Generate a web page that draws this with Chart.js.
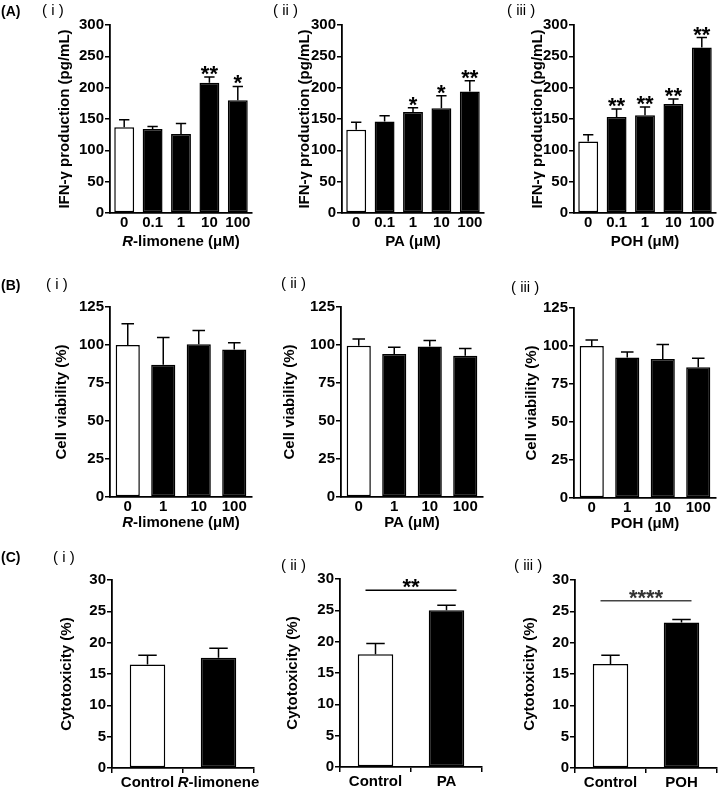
<!DOCTYPE html>
<html>
<head>
<meta charset="utf-8">
<script src="https://cdn.jsdelivr.net/npm/chart.js@4.4.1/dist/chart.umd.min.js"></script>
<style>
  body { margin: 0; background: #fff; width: 721px; height: 791px; position: relative; overflow: hidden; font-family: Arial, 'Liberation Sans', sans-serif; }
  .box { position: absolute; }
  .lbl { position: absolute; font-size: 15px; color: #000; white-space: pre; line-height: 16px; will-change: transform; }
  .lbl.b { font-weight: bold; font-size: 14px; }
</style>
</head>
<body>
<div class="lbl b" style="left:1px;top:3px">(A)</div>
<div class="lbl" style="left:42px;top:2px">( i )</div>
<div class="lbl" style="left:273px;top:2px">( ii )</div>
<div class="lbl" style="left:507px;top:2px">( iii )</div>
<div class="lbl b" style="left:1px;top:277px">(B)</div>
<div class="lbl" style="left:46px;top:276px">( i )</div>
<div class="lbl" style="left:281px;top:275px">( ii )</div>
<div class="lbl" style="left:511px;top:279px">( iii )</div>
<div class="lbl b" style="left:1px;top:549px">(C)</div>
<div class="lbl" style="left:53px;top:549px">( i )</div>
<div class="lbl" style="left:281px;top:557px">( ii )</div>
<div class="lbl" style="left:514px;top:557px">( iii )</div>

<script>
// categories
const doseLabels5 = ['0', '0.1', '1', '10', '100'];
const doseLabels4 = ['0', '1', '10', '100'];
const groupsLimonene = ['Control', 'R-limonene'];
const groupsPA = ['Control', 'PA'];
const groupsPOH = ['Control', 'POH'];

// (A) IFN-γ production, pg/mL (mean and upper error)
const ifnLimonene = [137, 134, 126, 208, 180];
const ifnLimoneneErr = [12, 4, 17, 9, 22];
const ifnLimoneneSig = ['', '', '', '**', '*'];
const ifnPA = [133, 146, 161, 167, 194];
const ifnPAErr = [12, 9, 7, 20, 17];
const ifnPASig = ['', '', '*', '*', '**'];
const ifnPOH = [114, 153, 156, 174, 264];
const ifnPOHErr = [11, 13, 13, 8, 16];
const ifnPOHSig = ['', '**', '**', '**', '**'];

// (B) cell viability, %
const viabLimonene = [100, 87, 100.5, 97];
const viabLimoneneErr = [14, 18, 9, 4.5];
const viabPA = [99.5, 94, 99, 93];
const viabPAErr = [4.5, 4.5, 4, 4.7];
const viabPOH = [100, 92.5, 91.5, 86];
const viabPOHErr = [4, 3.5, 9.5, 6];

// (C) cytotoxicity, %
const cytoLimonene = [16.5, 17.6];
const cytoLimoneneErr = [1.5, 1.5];
const cytoPA = [18, 25];
const cytoPAErr = [1.7, 0.8];
const cytoPOH = [16.6, 23.2];
const cytoPOHErr = [1.4, 0.5];
const cytoPASig = { level: 28.2, text: '**' };
const cytoPOHSig = { level: 26.7, text: '****' };

const FONT = "Arial, 'Liberation Sans', sans-serif";
Chart.defaults.font.family = FONT;
Chart.defaults.color = '#000';

const PLOT_W = 142;
const Y_W = 100;
const PAD_TOP = 40;
const PAD_RIGHT = 16;

// text with italic "R" prefix, e.g. R-limonene
function richParts(text) {
  if (text.startsWith('R-')) return [{ t: 'R', it: true }, { t: text.slice(1), it: false }];
  return [{ t: text, it: false }];
}

function drawRich(ctx, text, cx, cy, size) {
  const parts = richParts(text);
  let total = 0;
  parts.forEach(p => {
    ctx.font = (p.it ? 'italic ' : '') + 'bold ' + size + 'px ' + FONT;
    p.w = ctx.measureText(p.t).width;
    total += p.w;
  });
  let x = cx - total / 2;
  ctx.textAlign = 'left';
  ctx.textBaseline = 'middle';
  parts.forEach(p => {
    ctx.font = (p.it ? 'italic ' : '') + 'bold ' + size + 'px ' + FONT;
    ctx.fillText(p.t, x, cy);
    x += p.w;
  });
}

const errorBarPlugin = {
  id: 'errorBars',
  afterDatasetsDraw(chart) {
    const { ctx, scales: { y } } = chart;
    const meta = chart.getDatasetMeta(0);
    const ds = chart.data.datasets[0];
    ctx.save();
    ctx.strokeStyle = '#000';
    ctx.lineWidth = 1.5;
    meta.data.forEach((bar, i) => {
      const top = y.getPixelForValue(ds.data[i] + ds.err[i]);
      const half = bar.width * 0.26;
      ctx.beginPath();
      ctx.moveTo(bar.x, bar.y);
      ctx.lineTo(bar.x, top);
      ctx.moveTo(bar.x - half, top);
      ctx.lineTo(bar.x + half, top);
      ctx.stroke();
      const star = ds.stars && ds.stars[i];
      if (star) {
        ctx.fillStyle = '#000';
        ctx.font = 'bold 22px ' + FONT;
        ctx.textAlign = 'center';
        ctx.textBaseline = 'alphabetic';
        ctx.fillText(star, bar.x, top + 4);
      }
    });
    if (ds.sig) {
      const x0 = meta.data[0].x - 10;
      const x1 = meta.data[meta.data.length - 1].x + 10;
      const ly = y.getPixelForValue(ds.sig.level);
      ctx.strokeStyle = ds.sig.text.length > 2 ? '#444' : '#000';
      ctx.beginPath();
      ctx.moveTo(x0, ly);
      ctx.lineTo(x1, ly);
      ctx.stroke();
      ctx.fillStyle = ds.sig.text.length > 2 ? '#333' : '#000';
      ctx.font = 'bold 22px ' + FONT;
      ctx.textAlign = 'center';
      ctx.textBaseline = 'alphabetic';
      ctx.fillText(ds.sig.text, (x0 + x1) / 2, ly + 4);
    }
    ctx.restore();
  }
};

const richTextPlugin = {
  id: 'richText',
  afterDraw(chart) {
    const { ctx, chartArea, scales: { x } } = chart;
    const cfg = chart.config.options.plugins.richText || {};
    ctx.save();
    ctx.fillStyle = '#000';
    if (cfg.xTitle) {
      drawRich(ctx, cfg.xTitle, (chartArea.left + chartArea.right) / 2, chartArea.bottom + cfg.xTitleDy, 15);
    }
    if (cfg.richTicks) {
      chart.data.labels.forEach((lab, i) => {
        if (!lab.startsWith('R-')) return;
        drawRich(ctx, lab, x.getPixelForTick(i), chartArea.bottom + cfg.tickDy, cfg.tickSize);
      });
    }
    ctx.restore();
  }
};

function makePanel(p) {
  const w = Y_W + PLOT_W + PAD_RIGHT;
  const h = PAD_TOP + p.plotH + p.xH;
  const box = document.createElement('div');
  box.className = 'box';
  box.style.left = (p.left - Y_W) + 'px';
  box.style.top = (p.top - PAD_TOP) + 'px';
  const canvas = document.createElement('canvas');
  canvas.width = w;
  canvas.height = h;
  box.appendChild(canvas);
  document.body.appendChild(box);

  const xTickLen = p.xTicks ? 5 : 0;

  return new Chart(canvas, {
    type: 'bar',
    data: {
      labels: p.labels,
      datasets: [{
        data: p.values,
        err: p.err,
        stars: p.stars,
        sig: p.sig,
        backgroundColor: p.values.map((v, i) => i === 0 ? '#fff' : '#000'),
        borderColor: '#000',
        borderWidth: 1.5,
        borderSkipped: false,
        barPercentage: p.barPct,
        categoryPercentage: 1
      }]
    },
    options: {
      responsive: false,
      animation: false,
      events: [],
      layout: { padding: { top: PAD_TOP, right: PAD_RIGHT, left: 0, bottom: 0 } },
      plugins: {
        legend: { display: false },
        tooltip: { enabled: false },
        richText: { xTitle: p.xTitle, xTitleDy: p.xTitleDy, richTicks: p.richTicks, tickDy: xTickLen + 1 + p.xTickSize * 0.6, tickSize: p.xTickSize }
      },
      scales: {
        x: {
          offset: true,
          grid: { display: p.xTicks, drawOnChartArea: false, drawTicks: p.xTicks, tickLength: xTickLen, color: '#000', lineWidth: 1.5 },
          border: { display: true, color: '#000', width: 1.8 },
          ticks: {
            color: '#000',
            font: { size: p.xTickSize, weight: 'bold' },
            padding: 1,
            maxRotation: 0,
            autoSkip: false,
            callback: function (value) {
              const lab = this.getLabelForValue(value);
              return (p.richTicks && lab.startsWith('R-')) ? '' : lab;
            }
          },
          afterFit(scale) { scale.height = p.xH; }
        },
        y: {
          min: 0,
          max: p.yMax,
          grid: { display: true, drawOnChartArea: false, drawTicks: true, tickLength: 5, color: '#000', lineWidth: 1.5 },
          border: { display: true, color: '#000', width: 1.8 },
          ticks: { stepSize: p.step, color: '#000', font: { size: 15, weight: 'bold' }, padding: 1 },
          title: {
            display: true,
            text: p.yTitle,
            color: '#000',
            font: { size: 15, weight: 'bold' },
            padding: { top: Y_W - p.titleDx - 9, bottom: 0 }
          },
          afterFit(scale) { scale.width = Y_W; }
        }
      }
    },
    plugins: [errorBarPlugin, richTextPlugin]
  });
}

const IFN_TITLE = 'IFN-γ production (pg/mL)';
const VIAB_TITLE = 'Cell viability (%)';
const CYTO_TITLE = 'Cytotoxicity (%)';

const rowA = { plotH: 188, yMax: 300, step: 50, yTitle: IFN_TITLE, labels: doseLabels5, barPct: 0.7, xH: 48, xTicks: false, xTickSize: 15, xTitleDy: 29 };
const rowB = { plotH: 190, yMax: 125, step: 25, yTitle: VIAB_TITLE, labels: doseLabels4, barPct: 0.68, xH: 42, xTicks: false, xTickSize: 15, xTitleDy: 26 };
const rowC = { plotH: 188, yMax: 30, step: 5, yTitle: CYTO_TITLE, barPct: 0.5, xH: 24, xTicks: true, xTickSize: 15 };

makePanel(Object.assign({}, rowA, { left: 110, top: 25, titleDx: 45, values: ifnLimonene, err: ifnLimoneneErr, stars: ifnLimoneneSig, xTitle: 'R-limonene (μM)' }));
makePanel(Object.assign({}, rowA, { left: 342, top: 25, titleDx: 37, values: ifnPA, err: ifnPAErr, stars: ifnPASig, xTitle: 'PA (μM)' }));
makePanel(Object.assign({}, rowA, { left: 574, top: 25, titleDx: 36, values: ifnPOH, err: ifnPOHErr, stars: ifnPOHSig, xTitle: 'POH (μM)' }));

makePanel(Object.assign({}, rowB, { left: 110, top: 307, titleDx: 48, values: viabLimonene, err: viabLimoneneErr, xTitle: 'R-limonene (μM)' }));
makePanel(Object.assign({}, rowB, { left: 341, top: 307, titleDx: 51, values: viabPA, err: viabPAErr, xTitle: 'PA (μM)' }));
makePanel(Object.assign({}, rowB, { left: 574, top: 308, titleDx: 42, values: viabPOH, err: viabPOHErr, xTitle: 'POH (μM)' }));

makePanel(Object.assign({}, rowC, { left: 112, top: 580, titleDx: 45, labels: groupsLimonene, values: cytoLimonene, err: cytoLimoneneErr, richTicks: true }));
makePanel(Object.assign({}, rowC, { left: 340, top: 579, titleDx: 47, labels: groupsPA, values: cytoPA, err: cytoPAErr, sig: cytoPASig }));
makePanel(Object.assign({}, rowC, { left: 575, top: 580, titleDx: 45, labels: groupsPOH, values: cytoPOH, err: cytoPOHErr, sig: cytoPOHSig }));
</script>
</body>
</html>
